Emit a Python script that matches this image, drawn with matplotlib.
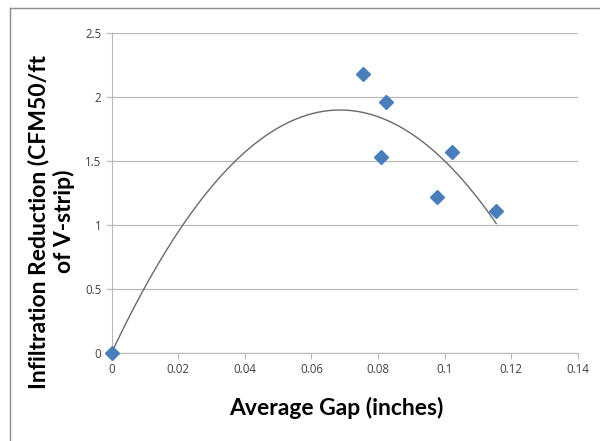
import matplotlib.pyplot as plt
import numpy as np

# Average gap (inches) vs infiltration reduction (CFM50/ft of V-strip)
gap = np.array([0.0, 0.0754, 0.0823, 0.0810, 0.1022, 0.0977, 0.1155])
reduction = np.array([0.0, 2.177, 1.958, 1.529, 1.570, 1.222, 1.107])

x_ticks = [0, 0.02, 0.04, 0.06, 0.08, 0.1, 0.12, 0.14]
x_tick_labels = ["0", "0.02", "0.04", "0.06", "0.08", "0.1", "0.12", "0.14"]
y_ticks = [0, 0.5, 1, 1.5, 2, 2.5]
y_tick_labels = ["0", "0.5", "1", "1.5", "2", "2.5"]

# 2nd order trendline with intercept fixed at 0 (like the Excel option)
A = np.column_stack([gap, gap ** 2])
coef, *_ = np.linalg.lstsq(A, reduction, rcond=None)
xs = np.linspace(0, gap.max(), 200)
ys = coef[0] * xs + coef[1] * xs ** 2

fig = plt.figure(figsize=(6, 4.41), dpi=100)
ax = fig.add_axes([0.186, 0.2, 0.777, 0.725])

ax.plot(xs, ys, color="#6a6a6a", lw=1.0, zorder=2)
ax.plot(gap, reduction, "D", color="#4a7ebb", markersize=7, zorder=3, clip_on=False)

ax.set_xlim(0, 0.14)
ax.set_ylim(0, 2.5)
ax.set_xticks(x_ticks)
ax.set_xticklabels(x_tick_labels)
ax.set_yticks(y_ticks)
ax.set_yticklabels(y_tick_labels)
ax.yaxis.grid(True, color="#b8b8b8", lw=0.9)
ax.set_axisbelow(True)

for s in ["top", "right"]:
    ax.spines[s].set_visible(False)
ax.spines["left"].set_color("#b8b8b8")
ax.spines["bottom"].set_color("#b8b8b8")
ax.tick_params(axis="both", colors="#b8b8b8", labelcolor="#404040", labelsize=8.3,
               length=4, direction="out")
for lbl in ax.get_xticklabels() + ax.get_yticklabels():
    lbl.set_family("Open Sans")

ax.set_xlabel("Average Gap (inches)", family="Lato", fontweight="bold", fontsize=16.5)
ax.xaxis.set_label_coords(0.482, -0.138)
ax.set_ylabel("Infiltration Reduction (CFM50/ft\nof V-strip)", family="Lato",
              fontweight="bold", fontsize=16.5, linespacing=1.2, multialignment="center")
ax.yaxis.set_label_coords(-0.079, 0.41)

# light frame around the chart (left and top edges visible)
fig.add_artist(plt.Line2D([10 / 600, 10 / 600], [0, 1 - 8 / 441], color="#8c8c8c", lw=1))
fig.add_artist(plt.Line2D([10 / 600, 1], [1 - 8 / 441, 1 - 8 / 441], color="#8c8c8c", lw=1))

fig.savefig("out.png", dpi=100)
